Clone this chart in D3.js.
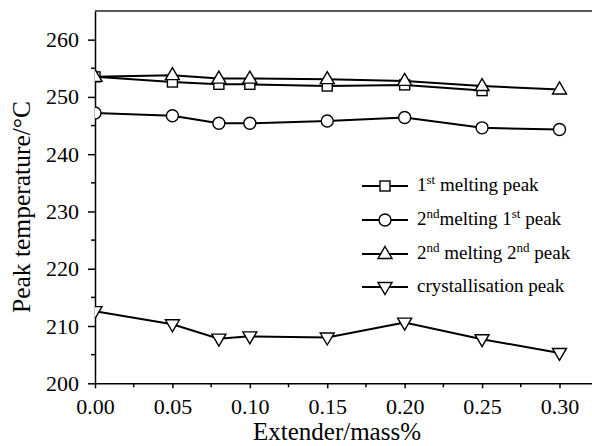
<!DOCTYPE html>
<html><head><meta charset="utf-8">
<script src="https://cdn.jsdelivr.net/npm/d3@7"></script>
<style>
html,body{margin:0;padding:0;background:#fff;}
svg{display:block;}
svg text{font-family:"Liberation Serif","DejaVu Serif","Times New Roman",Times,serif !important;}
</style></head>
<body>
<svg id="c" width="592" height="446"></svg>
<script>
const extender = [0.00, 0.05, 0.08, 0.10, 0.15, 0.20, 0.25, 0.30];
const melt1 = [253.5, 252.6, 252.2, 252.2, 251.9, 252.1, 251.1];
const melt2peak1 = [247.2, 246.7, 245.4, 245.4, 245.8, 246.4, 244.6, 244.3];
const melt2peak2 = [253.5, 253.8, 253.2, 253.2, 253.1, 252.8, 251.9, 251.3];
const cryst = [212.6, 210.3, 207.8, 208.2, 208.0, 210.6, 207.7, 205.3];
const xTicks = [0.00, 0.05, 0.10, 0.15, 0.20, 0.25, 0.30];
const xMinor = [0.025, 0.075, 0.125, 0.175, 0.225, 0.275];
const yTicks = [200, 210, 220, 230, 240, 250, 260];
const yMinor = [205, 215, 225, 235, 245, 255];

const svg = d3.select("#c");
const L = 95, R = 592, T = 11, B = 383.3;
const x = d3.scaleLinear().domain([0, 0.321]).range([L, R]);
const y = d3.scaleLinear().domain([200, 265]).range([B, T]);

svg.append("defs").append("clipPath").attr("id","clip")
  .append("rect").attr("x", L).attr("y", 0).attr("width", R - L + 10).attr("height", B);

// axes
const xAxis = d3.axisBottom(x).tickValues(xTicks).tickFormat(d3.format(".2f")).tickSize(5).tickSizeOuter(0);
const gx = svg.append("g").attr("transform", `translate(0,${B})`).call(xAxis);
gx.selectAll(".tick line").attr("stroke-width", 1.5);
gx.selectAll("text").attr("font-size", 22).attr("y", 30.5).attr("dy", null);
gx.select(".domain").attr("stroke-width", 1.5);
gx.selectAll(".minor").data(xMinor).enter().append("line").attr("class","minor")
  .attr("x1", d => x(d)).attr("x2", d => x(d)).attr("y1", 0).attr("y2", 4)
  .attr("stroke", "#000").attr("stroke-width", 1.5);

const yAxis = d3.axisLeft(y).tickValues(yTicks).tickSize(7).tickSizeOuter(0);
const gy = svg.append("g").attr("transform", `translate(${L},0)`).call(yAxis);
gy.selectAll(".tick line").attr("stroke-width", 1.5);
gy.selectAll("text").attr("font-size", 22).attr("x", -16);
gy.select(".domain").attr("stroke-width", 1.5);
gy.selectAll(".minor").data(yMinor).enter().append("line").attr("class","minor")
  .attr("x1", -4).attr("x2", 0).attr("y1", d => y(d)).attr("y2", d => y(d))
  .attr("stroke", "#000").attr("stroke-width", 1.5);

// top border
svg.append("line").attr("x1", L).attr("x2", R).attr("y1", T).attr("y2", T)
  .attr("stroke", "#222").attr("stroke-width", 1.5);

// axis titles
svg.append("text").attr("x", 337).attr("y", 440).attr("text-anchor", "middle")
  .attr("font-size", 25).text("Extender/mass%");
svg.append("text").attr("transform", "translate(30,207) rotate(-90)").attr("text-anchor", "middle")
  .attr("font-size", 25.5).text("Peak temperature/°C");

// markers
function marker(g, type, cx, cy) {
  if (type === "square") {
    g.append("rect").attr("x", cx - 5).attr("y", cy - 5).attr("width", 10).attr("height", 10);
  } else if (type === "circle") {
    g.append("circle").attr("cx", cx).attr("cy", cy).attr("r", 6);
  } else if (type === "up") {
    g.append("path").attr("d", `M${cx},${cy-7.5}L${cx+7},${cy+4.5}L${cx-7},${cy+4.5}Z`);
  } else {
    g.append("path").attr("d", `M${cx},${cy+7.5}L${cx+7},${cy-4.5}L${cx-7},${cy-4.5}Z`);
  }
}

const series = [
  {name: "melt1", vals: melt1, type: "square"},
  {name: "melt2peak1", vals: melt2peak1, type: "circle"},
  {name: "melt2peak2", vals: melt2peak2, type: "up"},
  {name: "cryst", vals: cryst, type: "down"}
];
const plot = svg.append("g").attr("clip-path", "url(#clip)");
const line = d3.line().x(d => x(d[0])).y(d => y(d[1]));
series.forEach(s => {
  const pts = s.vals.map((v, i) => [extender[i], v]);
  plot.append("path").attr("d", line(pts)).attr("fill", "none")
    .attr("stroke", "#000").attr("stroke-width", 2);
});
series.forEach(s => {
  const g = plot.append("g").attr("fill", "#fff").attr("stroke", "#000").attr("stroke-width", 1.4);
  s.vals.forEach((v, i) => marker(g, s.type, x(extender[i]), y(v)));
});

// legend
const legend = [
  {type: "square", parts: [["1", null], ["st", "sup"], [" melting peak", null]]},
  {type: "circle", parts: [["2", null], ["nd", "sup"], ["melting 1", null], ["st", "sup"], [" peak", null]]},
  {type: "up", parts: [["2", null], ["nd", "sup"], [" melting 2", null], ["nd", "sup"], [" peak", null]]},
  {type: "down", parts: [["crystallisation peak", null]]}
];
const legY = [186, 220, 254, 287];
legend.forEach((l, i) => {
  const ly = legY[i];
  svg.append("line").attr("x1", 362).attr("x2", 408).attr("y1", ly).attr("y2", ly)
    .attr("stroke", "#000").attr("stroke-width", 2);
  const g = svg.append("g").attr("fill", "#fff").attr("stroke", "#000").attr("stroke-width", 1.4);
  marker(g, l.type, 385, ly);
  const t = svg.append("text").attr("x", 417).attr("y", ly + 5).attr("font-size", 19);
  let cur = 0;
  l.parts.forEach(p => {
    const want = p[1] === "sup" ? -7 : 0;
    const ts = t.append("tspan").attr("dy", want - cur).text(p[0]);
    if (p[1] === "sup") ts.attr("font-size", 13);
    cur = want;
  });
});
</script>
</body></html>
